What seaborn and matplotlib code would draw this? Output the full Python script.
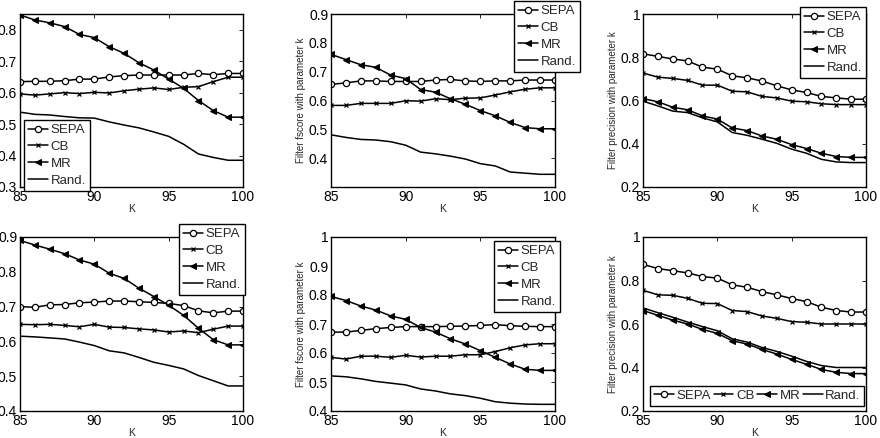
import seaborn as sns
import matplotlib.pyplot as plt

K = list(range(85, 101))

# top row
sepa_1 = [0.635, 0.636, 0.636, 0.638, 0.643, 0.643, 0.650, 0.654, 0.656, 0.656, 0.656, 0.656, 0.661, 0.657, 0.661, 0.661]
cb_1 = [0.596, 0.592, 0.596, 0.600, 0.597, 0.601, 0.599, 0.606, 0.611, 0.615, 0.610, 0.617, 0.619, 0.635, 0.649, 0.649]
mr_1 = [0.847, 0.831, 0.822, 0.810, 0.785, 0.775, 0.746, 0.725, 0.695, 0.672, 0.643, 0.614, 0.575, 0.543, 0.522, 0.522]
rand_1 = [0.538, 0.531, 0.529, 0.524, 0.520, 0.519, 0.507, 0.497, 0.488, 0.475, 0.461, 0.436, 0.405, 0.394, 0.385, 0.385]

sepa_2 = [0.656, 0.661, 0.668, 0.668, 0.666, 0.666, 0.666, 0.671, 0.673, 0.668, 0.666, 0.668, 0.668, 0.671, 0.671, 0.671]
cb_2 = [0.583, 0.583, 0.590, 0.590, 0.590, 0.599, 0.598, 0.606, 0.603, 0.608, 0.609, 0.619, 0.630, 0.639, 0.644, 0.644]
mr_2 = [0.760, 0.742, 0.724, 0.715, 0.688, 0.676, 0.638, 0.629, 0.606, 0.587, 0.565, 0.547, 0.524, 0.506, 0.502, 0.502]
rand_2 = [0.481, 0.472, 0.465, 0.463, 0.457, 0.445, 0.421, 0.415, 0.407, 0.397, 0.381, 0.373, 0.352, 0.348, 0.344, 0.344]

sepa_3 = [0.816, 0.804, 0.792, 0.783, 0.754, 0.745, 0.714, 0.705, 0.690, 0.668, 0.649, 0.637, 0.619, 0.612, 0.606, 0.606]
cb_3 = [0.727, 0.708, 0.702, 0.693, 0.671, 0.671, 0.643, 0.640, 0.619, 0.612, 0.597, 0.594, 0.585, 0.581, 0.581, 0.581]
mr_3 = [0.609, 0.594, 0.569, 0.557, 0.529, 0.514, 0.473, 0.461, 0.436, 0.421, 0.396, 0.378, 0.356, 0.341, 0.337, 0.337]
rand_3 = [0.597, 0.575, 0.551, 0.544, 0.520, 0.501, 0.452, 0.439, 0.421, 0.402, 0.375, 0.356, 0.328, 0.316, 0.313, 0.313]

# bottom row
sepa_4 = [0.700, 0.698, 0.705, 0.706, 0.711, 0.713, 0.716, 0.716, 0.714, 0.712, 0.709, 0.703, 0.688, 0.682, 0.687, 0.687]
cb_4 = [0.649, 0.648, 0.649, 0.646, 0.642, 0.649, 0.641, 0.640, 0.636, 0.633, 0.627, 0.630, 0.625, 0.635, 0.644, 0.644]
mr_4 = [0.890, 0.877, 0.865, 0.852, 0.834, 0.822, 0.796, 0.781, 0.753, 0.729, 0.704, 0.675, 0.638, 0.605, 0.590, 0.590]
rand_4 = [0.615, 0.613, 0.610, 0.607, 0.598, 0.588, 0.573, 0.567, 0.554, 0.540, 0.531, 0.521, 0.502, 0.487, 0.472, 0.472]

sepa_5 = [0.672, 0.672, 0.678, 0.684, 0.688, 0.691, 0.691, 0.691, 0.692, 0.693, 0.695, 0.698, 0.694, 0.692, 0.691, 0.691]
cb_5 = [0.585, 0.579, 0.589, 0.589, 0.585, 0.592, 0.586, 0.589, 0.589, 0.594, 0.594, 0.605, 0.618, 0.628, 0.632, 0.632]
mr_5 = [0.795, 0.781, 0.762, 0.748, 0.728, 0.716, 0.688, 0.672, 0.649, 0.631, 0.608, 0.585, 0.562, 0.544, 0.540, 0.540]
rand_5 = [0.521, 0.518, 0.511, 0.502, 0.496, 0.490, 0.476, 0.469, 0.459, 0.453, 0.444, 0.432, 0.427, 0.424, 0.423, 0.423]

sepa_6 = [0.874, 0.855, 0.845, 0.835, 0.818, 0.811, 0.780, 0.769, 0.749, 0.734, 0.717, 0.703, 0.677, 0.662, 0.655, 0.655]
cb_6 = [0.755, 0.734, 0.732, 0.718, 0.695, 0.694, 0.662, 0.657, 0.637, 0.626, 0.611, 0.608, 0.600, 0.600, 0.600, 0.600]
mr_6 = [0.662, 0.640, 0.618, 0.600, 0.575, 0.557, 0.523, 0.508, 0.483, 0.462, 0.437, 0.415, 0.391, 0.378, 0.372, 0.372]
rand_6 = [0.674, 0.652, 0.631, 0.609, 0.588, 0.569, 0.532, 0.517, 0.492, 0.474, 0.452, 0.428, 0.409, 0.400, 0.400, 0.400]

labels = ["SEPA", "CB", "MR", "Rand."]
ylabels = ["", "Filter fscore with parameter k", "Filter precision with parameter k"] * 2
yticks = [
    [0.3, 0.4, 0.5, 0.6, 0.7, 0.8],
    [0.4, 0.5, 0.6, 0.7, 0.8, 0.9],
    [0.2, 0.4, 0.6, 0.8, 1.0],
    [0.4, 0.5, 0.6, 0.7, 0.8, 0.9],
    [0.4, 0.5, 0.6, 0.7, 0.8, 0.9, 1.0],
    [0.2, 0.4, 0.6, 0.8, 1.0],
]
ylims = [(0.3, 0.85), (0.3, 0.9), (0.2, 1.0), (0.4, 0.9), (0.4, 1.0), (0.2, 1.0)]


def main():
    sns.set_style("white")
    plt.rcParams['font.family'] = ['Liberation Sans', 'DejaVu Sans']
    W, H = 880, 438
    fig = plt.figure(figsize=(8.8, 4.38), dpi=100)

    data = [
        (sepa_1, cb_1, mr_1, rand_1), (sepa_2, cb_2, mr_2, rand_2), (sepa_3, cb_3, mr_3, rand_3),
        (sepa_4, cb_4, mr_4, rand_4), (sepa_5, cb_5, mr_5, rand_5), (sepa_6, cb_6, mr_6, rand_6),
    ]
    lefts = [20, 331, 643]
    rights = [243, 555, 866]
    tops = [14, 237]
    bottoms = [187, 411]
    # legend anchor (pixel x, pixel y from top, loc, ncol)
    legs = [
        (24, 120, "upper left", 1),
        (580, 1, "upper right", 1),
        (866, 7, "upper right", 1),
        (245, 224, "upper right", 1),
        (560, 241, "upper right", 1),
        (650, 406, "lower left", 4),
    ]

    for i, (sepa, cb, mr, rand) in enumerate(data):
        r, c = divmod(i, 3)
        ax = fig.add_axes([lefts[c] / W, 1 - bottoms[r] / H,
                           (rights[c] - lefts[c]) / W, (bottoms[r] - tops[r]) / H])
        sns.lineplot(ax=ax, x=K, y=sepa, color="k", lw=1.1, marker="o", ms=4.5,
                     mfc="white", mec="k", mew=0.9, label=labels[0])
        sns.lineplot(ax=ax, x=K, y=cb, color="k", lw=1.1, marker="x", ms=2.8,
                     mec="k", mew=0.9, label=labels[1])
        sns.lineplot(ax=ax, x=K, y=mr, color="k", lw=1.1, marker="<", ms=5,
                     mfc="k", mec="k", label=labels[2])
        sns.lineplot(ax=ax, x=K, y=rand, color="k", lw=1.1, label=labels[3])

        ax.set_xlim(85, 100)
        ax.set_ylim(*ylims[i])
        ax.set_xticks([85, 90, 95, 100])
        ax.set_yticks(yticks[i])
        ax.set_yticklabels([("%g" % v) for v in yticks[i]])
        ax.tick_params(direction="in", top=True, right=True, length=3,
                       width=0.6, labelsize=10, pad=2, colors="k")
        for s in ax.spines.values():
            s.set_color("k")
            s.set_linewidth(1.0)
        ax.set_xlabel("K", fontsize=7.5, labelpad=0)
        ax.set_ylabel(ylabels[i], fontsize=7, labelpad=2)

        lx, ly, loc, ncol = legs[i]
        leg = ax.legend(loc=loc, bbox_to_anchor=(lx / W, 1 - ly / H),
                        bbox_transform=fig.transFigure, ncol=ncol, fontsize=9.5,
                        frameon=True, fancybox=False, framealpha=1,
                        edgecolor="k", borderpad=0.3, labelspacing=0.35,
                        handlelength=1.5, handletextpad=0.2,
                        columnspacing=0.2, borderaxespad=0)
        leg.get_frame().set_linewidth(1.0)
        leg.set_zorder(5)

    plt.savefig("out.png", dpi=100)
    return


if __name__ == "__main__":
    main()
